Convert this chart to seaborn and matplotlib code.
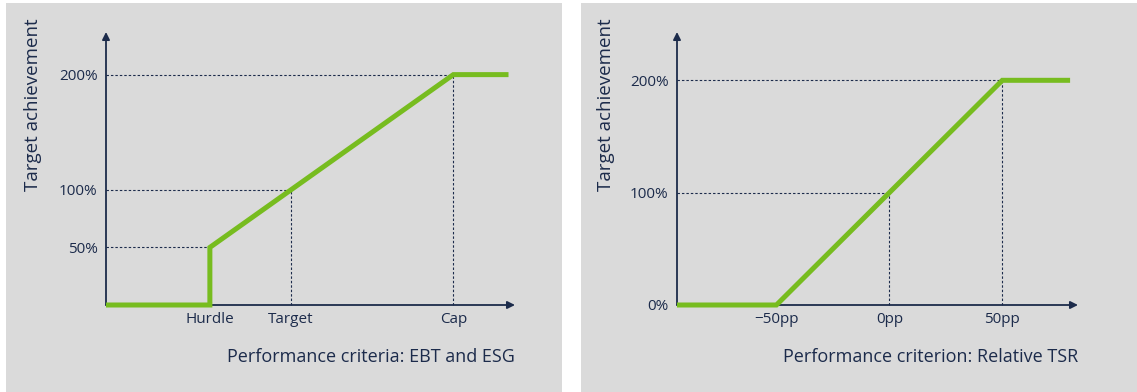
import matplotlib
matplotlib.use("Agg")
import matplotlib.pyplot as plt
import seaborn as sns
from matplotlib.patches import Rectangle

sns.set_theme(style="white")
plt.rcParams['font.family'] = ['Open Sans', 'DejaVu Sans']

# ---- data ----
# Left panel: performance (relative to target = 100) vs target achievement (%)
ebt_x = [-14, 50, 50, 100, 200, 234]
ebt_y = [0, 0, 50, 100, 200, 200]
ebt_tick_pos = [50, 100, 200]
ebt_tick_labels = ["Hurdle", "Target", "Cap"]
ebt_ytick_pos = [50, 100, 200]
ebt_ytick_labels = ["50%", "100%", "200%"]

# Right panel: relative TSR (pp) vs target achievement (%)
tsr_x = [-94, -50, 0, 50, 80]
tsr_y = [0, 0, 100, 200, 200]
tsr_tick_pos = [-50, 0, 50]
tsr_tick_labels = ["\u221250pp", "0pp", "50pp"]
tsr_ytick_pos = [0, 100, 200]
tsr_ytick_labels = ["0%", "100%", "200%"]

GREEN = "#77bc1f"
NAVY = "#1c2b4b"
BG = "#dadada"

W, H = 1137, 392
fig = plt.figure(figsize=(W / 100, H / 100), dpi=100)
fig.patch.set_facecolor("white")

def fx(px):
    return px / W

def fy(py):
    return 1 - py / H

# gray panels
fig.patches.append(Rectangle((fx(6), 0), fx(562 - 6), fy(3), transform=fig.transFigure,
                             facecolor=BG, edgecolor="none", zorder=-10))
fig.patches.append(Rectangle((fx(581), 0), fx(1137 - 581), fy(3), transform=fig.transFigure,
                             facecolor=BG, edgecolor="none", zorder=-10))


def make_panel(ax_px, xlim, ylim, x, y, xt, xtl, yt, ytl, guides_h, guides_v, xlabel):
    left, right, top, bottom = ax_px
    ax = fig.add_axes([fx(left), fy(bottom), fx(right - left), fy(top) - fy(bottom)])
    ax.set_zorder(5)
    ax.patch.set_visible(False)
    ax.set_xlim(*xlim)
    ax.set_ylim(*ylim)
    for s in ax.spines.values():
        s.set_visible(False)
    # dashed guides
    for (yy, xx) in guides_h:
        ax.plot([xlim[0], xx], [yy, yy], color=NAVY, lw=0.8, ls=(0, (2.2, 1.8)), zorder=2)
    for (xx, yy) in guides_v:
        ax.plot([xx, xx], [ylim[0], yy], color=NAVY, lw=0.8, ls=(0, (2.2, 1.8)), zorder=2)
    # axes with arrows
    ax.annotate("", xy=(xlim[1], ylim[0]), xytext=(xlim[0], ylim[0]),
                arrowprops=dict(arrowstyle="-|>", color=NAVY, lw=1.3, mutation_scale=11,
                                shrinkA=0, shrinkB=0), annotation_clip=False, zorder=3)
    ax.annotate("", xy=(xlim[0], ylim[1]), xytext=(xlim[0], ylim[0]),
                arrowprops=dict(arrowstyle="-|>", color=NAVY, lw=1.3, mutation_scale=11,
                                shrinkA=0, shrinkB=0), annotation_clip=False, zorder=3)
    sns.lineplot(x=x, y=y, ax=ax, color=GREEN, lw=3.6, estimator=None, sort=False,
                 zorder=5, solid_capstyle="butt", solid_joinstyle="miter")
    for ln in ax.lines:
        ln.set_clip_on(False)
    ax.set_xticks(xt)
    ax.set_xticklabels(xtl)
    ax.set_yticks(yt)
    ax.set_yticklabels(ytl)
    ax.tick_params(axis="both", length=0, labelsize=11, colors=NAVY)
    ax.tick_params(axis="x", pad=5)
    ax.tick_params(axis="y", pad=6)
    ax.set_xlabel("")
    ax.set_ylabel("")
    ax.text(1.0, -0.19, xlabel, transform=ax.transAxes, ha="right", va="center",
            fontsize=13, color=NAVY)
    ax.grid(False)
    return ax


axL = make_panel((106, 515, 32, 305), (-14, 238), (0, 237), ebt_x, ebt_y,
                 ebt_tick_pos, ebt_tick_labels, ebt_ytick_pos, ebt_ytick_labels,
                 [(50, 50), (100, 100), (200, 200)], [(100, 100), (200, 200)],
                 "Performance criteria: EBT and ESG")
axR = make_panel((677, 1078, 32, 305), (-94, 83.5), (0, 243), tsr_x, tsr_y,
                 tsr_tick_pos, tsr_tick_labels, tsr_ytick_pos, tsr_ytick_labels,
                 [(100, 0), (200, 50)], [(0, 100), (50, 200)],
                 "Performance criterion: Relative TSR")

fig.text(fx(33), fy(105), "Target achievement", rotation=90, ha="center", va="center",
         fontsize=13.5, color=NAVY)
fig.text(fx(606), fy(105), "Target achievement", rotation=90, ha="center", va="center",
         fontsize=13.5, color=NAVY)

fig.savefig("out.png", dpi=100, facecolor=fig.get_facecolor())
